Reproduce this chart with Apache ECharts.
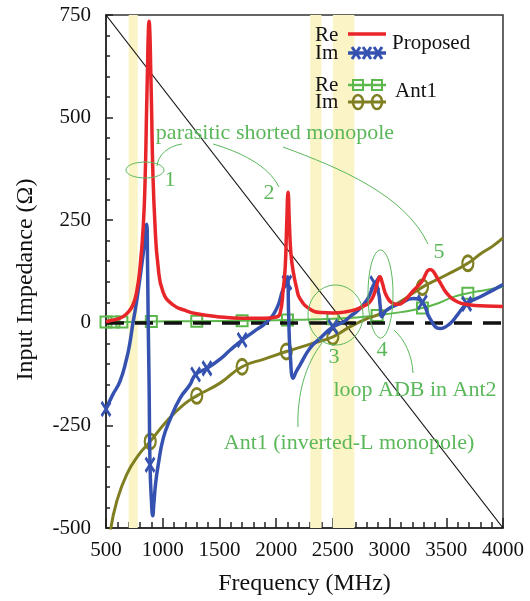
<!DOCTYPE html>
<html>
<head>
<meta charset="utf-8">
<script src="https://cdn.jsdelivr.net/npm/echarts/dist/echarts.min.js"></script>
<style>
html, body { margin: 0; padding: 0; background: #ffffff; }
#chart { width: 530px; height: 601px; }
</style>
</head>
<body>
<div id="chart"></div>
<script>
// ---- Input impedance data (frequency in MHz, impedance in ohms) ----
const propReFreq = [500, 535, 600, 650, 700, 738, 770, 800, 829, 845, 858, 866, 873, 880, 887, 894, 902, 912, 932, 958, 1003, 1090, 1200, 1300, 1480, 1700, 1900, 2000, 2034, 2063, 2080, 2093, 2105, 2117, 2130, 2151, 2180, 2210, 2300, 2400, 2500, 2600, 2700, 2780, 2830, 2870, 2895, 2915, 2935, 2974, 3033, 3080, 3121, 3209, 3283, 3357, 3430, 3504, 3592, 3700, 3850, 4000];
const propRe     = [2, 5, 9, 15, 27, 44, 75, 135, 238, 350, 520, 620, 705, 735, 705, 620, 520, 380, 238, 141, 75, 44, 30, 22, 15, 11, 11, 14, 22, 83, 135, 240, 318, 240, 170, 124, 85, 59, 33, 25, 24, 26, 32, 42, 52, 75, 100, 112, 98, 65, 47, 45, 51, 78, 100, 130, 105, 72, 52, 44, 41, 40];

const propImFreq = [500, 560, 623, 682, 710, 735, 760, 782, 815, 840, 859, 866, 872, 880, 888, 900, 912, 922, 938, 961, 1005, 1064, 1152, 1240, 1290, 1390, 1500, 1600, 1700, 1800, 1917, 2005, 2063, 2095, 2102, 2110, 2125, 2151, 2175, 2210, 2298, 2387, 2500, 2600, 2650, 2720, 2799, 2840, 2870, 2905, 2916, 2932, 2974, 3092, 3209, 3290, 3357, 3445, 3533, 3600, 3680, 3826, 4000];
const propIm     = [-210, -175, -143, -87, -50, -5, 35, 75, 141, 195, 240, 150, 0, -150, -346, -430, -470, -440, -390, -345, -281, -236, -184, -151, -126, -111, -90, -65, -42, -22, 2, 35, 83, 98, 112, 20, -80, -135, -120, -103, -62, -38, -10, 3, 15, 30, 55, 78, 96, 70, 44, 15, 31, 47, 59, 50, 10, -14, -2, 20, 46, 67, 93];
const propImMarks = [500, 888, 1290, 1390, 1700, 2095, 2500, 2870, 3290, 3680];

const ant1ReFreq = [500, 570, 640, 900, 1300, 1700, 2100, 2300, 2500, 2700, 2890, 3100, 3290, 3450, 3550, 3690, 3850, 4000];
const ant1Re     = [2, 2, 2, 3, 4, 5, 7, 8, 10, 13, 18, 26, 36, 50, 62, 72, 80, 88];
const ant1ReMarks = [500, 570, 640, 900, 1300, 1700, 2100, 2500, 2890, 3290, 3690];

const ant1ImFreq = [540, 594, 682, 780, 890, 1035, 1182, 1300, 1505, 1700, 1900, 2090, 2300, 2500, 2650, 2800, 2900, 3092, 3290, 3504, 3690, 3812, 3900, 4000];
const ant1Im     = [-505, -436, -370, -325, -289, -240, -200, -178, -147, -107, -88, -70, -52, -34, -10, 10, 20, 51, 87, 117, 145, 170, 185, 207];
const ant1ImMarks = [890, 1300, 1700, 2090, 2500, 3290, 3690];

// Shaded operating bands (MHz)
const bandStart = [700, 2300, 2500];
const bandEnd   = [780, 2400, 2690];

// Reference line across the plot and zero level
const diagonal = [[500, 750], [4000, -500]];
const zeroLevel = 0;

// Axis ranges
const xMin = 500, xMax = 4000, xStep = 500;
const yMin = -500, yMax = 750, yStep = 250;

// ---- Styling ----
const SERIF = '"Liberation Serif", "Times New Roman", serif';
const RED = '#e8262a';
const BLUE = '#3552b0';
const GREEN = '#5cb84c';
const OLIVE = '#7f7f22';
const NOTE = '#5bb85a';
const BAND = '#fbf4c6';

const X_PATH = 'path://M0,0L8,12M8,0L0,12';

function seriesData(freqs, vals, marks, symbol, size) {
  return freqs.map((f, i) => {
    if (marks.indexOf(f) >= 0) {
      return { value: [f, vals[i]], symbol: symbol, symbolSize: size };
    }
    return { value: [f, vals[i]], symbol: 'none' };
  });
}

const chart = echarts.init(document.getElementById('chart'), null, { renderer: 'canvas' });

const noteFont = '22px ' + SERIF;
const legFont = '21px ' + SERIF;

function txt(text, x, y, color, font, align) {
  return {
    type: 'text', silent: true, z: 100,
    style: { text: text, x: x, y: y, fill: color, font: font, textAlign: align || 'center', textVerticalAlign: 'middle' }
  };
}
function seg(x1, y1, x2, y2, color, w) {
  return { type: 'line', silent: true, z: 100, shape: { x1: x1, y1: y1, x2: x2, y2: y2 }, style: { stroke: color, lineWidth: w } };
}
function xMark(cx, cy) {
  return [seg(cx - 4, cy - 6, cx + 4, cy + 6, BLUE, 3), seg(cx + 4, cy - 6, cx - 4, cy + 6, BLUE, 3)];
}
function rectMark(cx, cy) {
  return { type: 'rect', silent: true, z: 100, shape: { x: cx - 5, y: cy - 5, width: 10, height: 10 }, style: { fill: 'none', stroke: GREEN, lineWidth: 2 } };
}
function ovalMark(cx, cy) {
  return { type: 'ellipse', silent: true, z: 100, shape: { cx: cx, cy: cy, rx: 5, ry: 7 }, style: { fill: 'none', stroke: OLIVE, lineWidth: 2.5 } };
}
function ell(cx, cy, rx, ry) {
  return { type: 'ellipse', silent: true, z: 90, shape: { cx: cx, cy: cy, rx: rx, ry: ry }, style: { fill: 'none', stroke: NOTE, lineWidth: 1 } };
}
function curve(x1, y1, cx1, cy1, cx2, cy2, x2, y2) {
  return { type: 'bezierCurve', silent: true, z: 90, shape: { x1: x1, y1: y1, cpx1: cx1, cpy1: cy1, cpx2: cx2, cpy2: cy2, x2: x2, y2: y2 }, style: { fill: 'none', stroke: NOTE, lineWidth: 1 } };
}

const graphics = [
  // legend
  txt('Re', 315, 35, '#111', legFont, 'left'),
  txt('Im', 315, 53, '#111', legFont, 'left'),
  seg(348, 34, 386, 34, RED, 3.5),
  seg(348, 53, 386, 53, BLUE, 3.5),
  ...xMark(356, 53), ...xMark(367, 53), ...xMark(378, 53),
  txt('Proposed', 392, 43, '#111', legFont, 'left'),
  txt('Re', 315, 85, '#111', legFont, 'left'),
  txt('Im', 315, 102, '#111', legFont, 'left'),
  seg(348, 85, 386, 85, GREEN, 2.5),
  rectMark(358, 85), rectMark(377, 85),
  seg(348, 102, 386, 102, OLIVE, 3),
  ovalMark(358, 102), ovalMark(377, 102),
  txt('Ant1', 395, 91, '#111', legFont, 'left'),

  // annotations
  txt('parasitic shorted monopole', 275, 133, NOTE, noteFont),
  txt('1', 170, 180, NOTE, noteFont),
  txt('2', 269, 193, NOTE, noteFont),
  txt('3', 334, 357, NOTE, noteFont),
  txt('4', 382, 350, NOTE, noteFont),
  txt('5', 439, 252, NOTE, noteFont),
  txt('loop ADB in Ant2', 415, 390, NOTE, noteFont),
  txt('Ant1 (inverted-L monopole)', 349, 443, NOTE, noteFont),
  ell(145, 170, 19, 8),
  ell(335.5, 315, 27.5, 30),
  ell(380.5, 294, 12.5, 44),
  curve(157, 166, 158, 155, 168, 146, 182, 144),
  curve(213, 144, 240, 152, 268, 165, 279, 187),
  curve(283, 147, 340, 168, 405, 195, 428, 244),
  curve(322, 343, 305, 365, 297, 395, 298, 427),
  curve(394, 330, 405, 340, 412, 355, 413, 373)
];

const plainNumber = v => String(v);

const option = {
  backgroundColor: '#ffffff',
  animation: false,
  grid: {
    left: 106, right: 27, top: 15, bottom: 72,
    show: true, borderColor: '#333', borderWidth: 1.5, backgroundColor: 'transparent'
  },
  xAxis: {
    type: 'value', min: xMin, max: xMax, interval: xStep,
    name: 'Frequency (MHz)', nameLocation: 'middle', nameGap: 44,
    nameTextStyle: { fontFamily: SERIF, fontSize: 24, color: '#111' },
    axisLine: { show: true, onZero: false, lineStyle: { color: '#222', width: 1.5 } },
    axisTick: { show: true, inside: true, length: 10, lineStyle: { color: '#222', width: 1.5 } },
    minorTick: { show: true, splitNumber: 5, length: 6, lineStyle: { color: '#222', width: 1.5 } },
    axisLabel: { fontFamily: SERIF, fontSize: 21, color: '#111', margin: 12, formatter: plainNumber },
    splitLine: { show: false }
  },
  yAxis: {
    type: 'value', min: yMin, max: yMax, interval: yStep,
    name: 'Input Impedance (Ω)', nameLocation: 'middle', nameGap: 68, nameRotate: 90,
    nameTextStyle: { fontFamily: SERIF, fontSize: 24, color: '#111', padding: [0, 16, 0, 0] },
    axisLine: { show: true, onZero: false, lineStyle: { color: '#222', width: 1.5 } },
    axisTick: { show: true, inside: true, length: 7, lineStyle: { color: '#222', width: 1.5 } },
    minorTick: { show: true, splitNumber: 5, length: 4, lineStyle: { color: '#222', width: 1.5 } },
    axisLabel: { fontFamily: SERIF, fontSize: 21, color: '#111', margin: 15, formatter: plainNumber },
    splitLine: { show: false }
  },
  graphic: graphics,
  series: [
    {
      name: 'bands', type: 'line', data: [], silent: true, z: 1,
      markArea: {
        silent: true,
        itemStyle: { color: BAND },
        data: bandStart.map((s, i) => [{ xAxis: s }, { xAxis: bandEnd[i] }])
      }
    },
    {
      name: 'diagonal', type: 'line', data: diagonal, symbol: 'none', silent: true, z: 2,
      lineStyle: { color: '#111', width: 1.2 }
    },
    {
      name: 'Ant1 Re', type: 'line', z: 3,
      data: seriesData(ant1ReFreq, ant1Re, ant1ReMarks, 'rect', 11),
      showSymbol: true, showAllSymbol: true, smooth: 0.5,
      lineStyle: { color: GREEN, width: 2 },
      itemStyle: { color: 'rgba(0,0,0,0)', borderColor: GREEN, borderWidth: 2 }
    },
    {
      name: 'Ant1 Im', type: 'line', z: 4,
      data: seriesData(ant1ImFreq, ant1Im, ant1ImMarks, 'circle', [11, 15]),
      showSymbol: true, showAllSymbol: true, smooth: 0.5,
      lineStyle: { color: OLIVE, width: 3 },
      itemStyle: { color: 'rgba(0,0,0,0)', borderColor: OLIVE, borderWidth: 2.5 }
    },
    {
      name: 'zero', type: 'line', data: [], silent: true, z: 5,
      markLine: {
        silent: true, symbol: 'none', animation: false,
        label: { show: false },
        lineStyle: { color: '#111', width: 3.5, type: [18, 11] },
        data: [{ yAxis: zeroLevel }]
      }
    },
    {
      name: 'Proposed Im', type: 'line', z: 6,
      data: seriesData(propImFreq, propIm, propImMarks, X_PATH, [9, 14]),
      showSymbol: true, showAllSymbol: true, smooth: 0.5,
      lineStyle: { color: BLUE, width: 3.5 },
      itemStyle: { color: BLUE, borderColor: BLUE, borderWidth: 3 }
    },
    {
      name: 'Proposed Re', type: 'line', z: 7,
      data: propReFreq.map((f, i) => [f, propRe[i]]),
      symbol: 'none', smooth: 0.5,
      lineStyle: { color: RED, width: 3.5 }
    }
  ]
};

chart.setOption(option);
</script>
</body>
</html>
